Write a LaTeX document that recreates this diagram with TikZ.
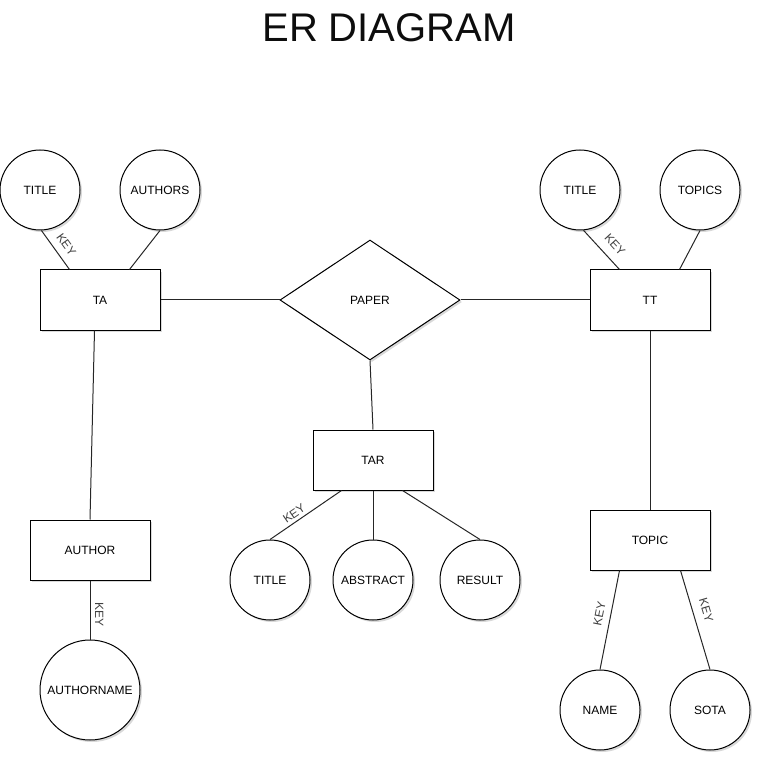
\documentclass[tikz,border=0pt]{standalone}
\usepackage{fontspec}
\setmainfont{Liberation Sans}
\usetikzlibrary{shapes.geometric,shadows,calc}
\begin{document}
\begin{tikzpicture}[x=0.75pt,y=-0.75pt,
  shd/.style={drop shadow={shadow xshift=1.5pt,shadow yshift=-1.5pt,opacity=0.25,fill=black!60}},
  ent/.style={draw=black,line width=0.75pt,fill=white,rectangle,minimum width=90pt,minimum height=45pt,inner sep=1pt,font=\fontsize{9}{11}\selectfont,shd},
  attr/.style={draw=black,line width=0.75pt,fill=white,circle,minimum size=60pt,inner sep=1pt,font=\fontsize{9}{11}\selectfont,shd},
  rel/.style={draw=black,line width=0.75pt,fill=white,diamond,minimum width=135pt,minimum height=90pt,inner sep=0pt,font=\fontsize{9}{11}\selectfont,shd},
  conn/.style={draw=black!85,line width=0.75pt},
  keylbl/.style={font=\fontsize{9}{11}\selectfont,text=black!75,inner sep=0pt}
]
\useasboundingbox (0,0) rectangle (762,762);
\node[font=\fontsize{30}{36}\selectfont,text=black!95] (title) at (389,28) {ER DIAGRAM};

% left group
\node[attr] (t1) at (40,190) {TITLE};
\node[attr] (au) at (160,190) {AUTHORS};
\node[ent] (ta) at (100,300) {TA};
\node[ent] (author) at (90,550) {AUTHOR};
\node[attr,minimum size=75pt] (aname) at (90,690) {AUTHORNAME};

% centre
\node[rel] (paper) at (370,300) {PAPER};
\node[ent] (tar) at (373,460) {TAR};
\node[attr] (t3) at (270,580) {TITLE};
\node[attr] (abs) at (373,580) {ABSTRACT};
\node[attr] (res) at (480,580) {RESULT};

% right group
\node[attr] (t2) at (580,190) {TITLE};
\node[attr] (tops) at (700,190) {TOPICS};
\node[ent] (tt) at (650,300) {TT};
\node[ent] (topic) at (650,540) {TOPIC};
\node[attr] (name) at (600,710) {NAME};
\node[attr] (sota) at (710,710) {SOTA};

% connectors
\draw[conn] (t1.272) -- ($(ta.north west)+(30,0)$) node[keylbl,pos=0.54,sloped,above=5.5pt] {KEY};
\draw[conn] (au.south) -- ($(ta.north west)+(90,0)$);
\draw[conn] (ta.east) -- (paper.west);
\draw[conn] (paper.east) -- (tt.west);
\draw[conn] (t2.275) -- ($(tt.north west)+(30,0)$) node[keylbl,pos=0.6,sloped,above=6.5pt] {KEY};
\draw[conn] (tops.south) -- ($(tt.north west)+(90,0)$);
\draw[conn] (tt.south) -- (topic.north);
\draw[conn] ($(topic.south west)+(30,0)$) -- (name.north) node[keylbl,pos=0.46,sloped,above=5pt] {KEY};
\draw[conn] ($(topic.south west)+(91,0)$) -- (sota.north) node[keylbl,pos=0.44,sloped,above=6.5pt] {KEY};
\draw[conn] (paper.south) -- (tar.north);
\draw[conn] ($(tar.south west)+(29,0)$) -- (t3.north) node[keylbl,pos=0.6,sloped,above=2.5pt] {KEY};
\draw[conn] (tar.south) -- (abs.north);
\draw[conn] ($(tar.south west)+(90,0)$) -- (res.north);
\draw[conn] ($(ta.south west)+(55,0)$) -- (author.north);
\draw[conn] (author.south) -- (aname.north) node[keylbl,pos=0.57,anchor=south,rotate=-90,yshift=3.5pt] {KEY};
\end{tikzpicture}
\end{document}
